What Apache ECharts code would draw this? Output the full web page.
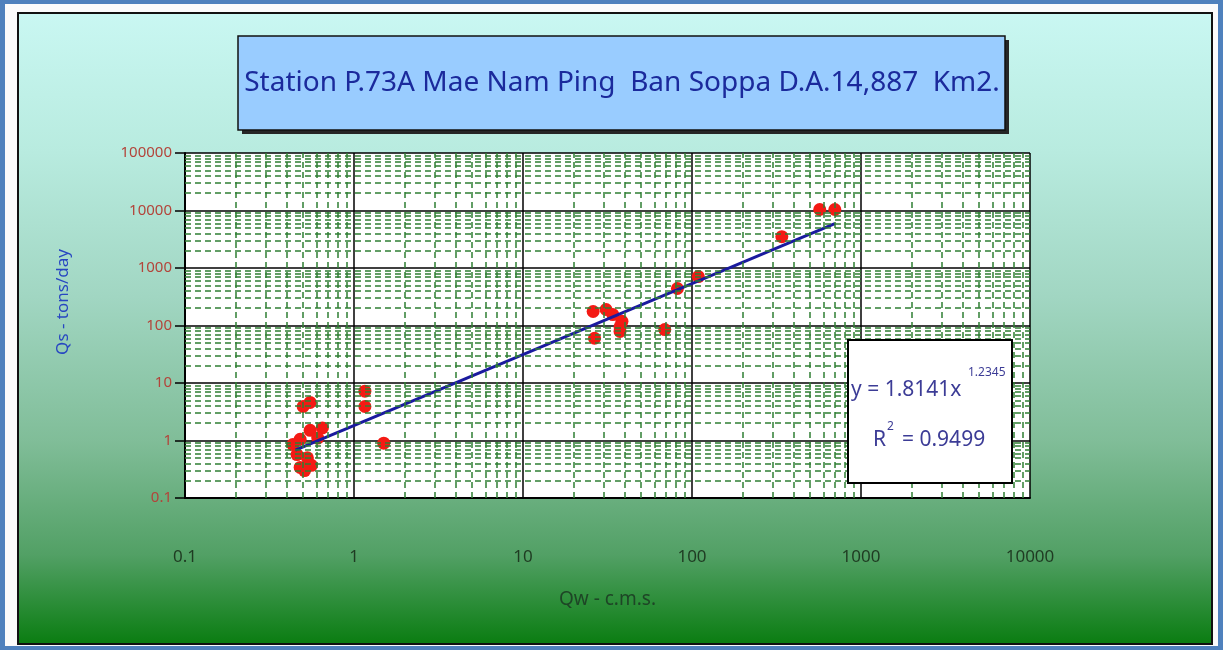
<!DOCTYPE html>
<html>
<head>
<meta charset="utf-8">
<script src="https://cdn.jsdelivr.net/npm/echarts@6/dist/echarts.min.js"></script>
<style>
html,body{margin:0;padding:0;width:1223px;height:650px;overflow:hidden;background:#4f81bd;}
#frame{position:absolute;left:5px;top:4px;width:1213px;height:642px;background:#fbfbfb;}
#inner{position:absolute;left:17px;top:12px;width:1192px;height:629px;border:2px solid #111;
  background:linear-gradient(to bottom,#c9f7f2 0%,#b8ebdf 22%,#a1d6c2 45%,#80bd98 68%,#52a065 86%,#0b7d12 100%);}
#chart{position:absolute;left:0;top:0;width:1223px;height:650px;}
</style>
</head>
<body>
<div id="frame"></div>
<div id="inner"></div>
<div id="chart"></div>
<script>
// ---- data ----
const titleText = 'Station P.73A Mae Nam Ping  Ban Soppa D.A.14,887  Km2.';
const xTickLabels = ['0.1', '1', '10', '100', '1000', '10000'];
const yTickLabels = ['0.1', '1', '10', '100', '1000', '10000', '100000'];
const qw = [0.50, 0.55, 0.435, 0.48, 0.55, 0.65, 0.61, 0.46, 0.53, 0.48, 0.56, 0.51, 1.16, 1.16, 1.5,
            26, 31, 34, 38.5, 37.5, 37.5, 26.5, 69, 82, 109, 340, 570, 700];
const qs = [3.9, 4.6, 0.85, 1.05, 1.5, 1.65, 1.1, 0.57, 0.5, 0.34, 0.37, 0.3, 7.2, 3.9, 0.9,
            175, 190, 155, 118, 95, 79, 60, 85, 440, 710, 3500, 10400, 10400];
const trendX = [0.45, 700];
const trendY = [0.677, 5900];
const eqText = 'y = 1.8141x';
const eqExp = '1.2345';
const r2Text = '= 0.9499';

const FONT = 'Noto Sans';
const points = qw.map((x, i) => [x, qs[i]]);
const trend = trendX.map((x, i) => [x, trendY[i]]);

function logLabel(labels, min) {
  return function (v) {
    const k = Math.round(Math.log10(v) - Math.log10(min));
    return labels[k] !== undefined ? labels[k] : '';
  };
}

// minor (2..9) grid positions
const minorX = [], minorY = [];
for (let d = -1; d <= 3; d++) for (let m = 2; m <= 9; m++) minorX.push({ xAxis: +(m * Math.pow(10, d)).toPrecision(3) });
for (let d = -1; d <= 4; d++) for (let m = 2; m <= 9; m++) minorY.push({ yAxis: +(m * Math.pow(10, d)).toPrecision(3) });

const chart = echarts.init(document.getElementById('chart'), null, { renderer: 'canvas' });
chart.setOption({
  animation: false,
  backgroundColor: 'transparent',
  grid: { left: 185, right: 193, top: 153, bottom: 152, show: true, backgroundColor: '#ffffff', borderWidth: 0 },
  xAxis: {
    type: 'log', logBase: 10, min: 0.1, max: 10000,
    axisLine: { show: true, onZero: false, lineStyle: { color: '#000', width: 2 } },
    axisTick: { show: false },
    splitLine: { show: true, lineStyle: { color: '#000', width: 1.5 } },
    axisLabel: { margin: 51, color: '#1f3b22', fontSize: 17, fontFamily: FONT, formatter: logLabel(xTickLabels, 0.1) },
    name: 'Qw - c.m.s.', nameLocation: 'middle', nameGap: 92,
    nameTextStyle: { color: '#1e4526', fontSize: 19, fontFamily: FONT }
  },
  yAxis: {
    type: 'log', logBase: 10, min: 0.1, max: 100000,
    axisLine: { show: true, onZero: false, lineStyle: { color: '#000', width: 2 } },
    axisTick: { show: true, length: 10, lineStyle: { color: '#000', width: 1.5 } },
    splitLine: { show: true, lineStyle: { color: '#000', width: 1.5 } },
    axisLabel: { margin: 13, color: '#b3443a', fontSize: 15, fontFamily: FONT, formatter: logLabel(yTickLabels, 0.1) }
  },
  series: [
    {
      type: 'scatter', data: [], silent: true, z: 1,
      markLine: {
        silent: true, symbol: ['none', 'none'], animation: false,
        label: { show: false },
        lineStyle: { type: [6, 4], color: '#2f7f33', width: 1.5 },
        emphasis: { disabled: true },
        data: minorX.concat(minorY)
      }
    },
    {
      type: 'scatter', data: points, symbol: 'circle', symbolSize: 13, z: 3,
      itemStyle: { color: '#f41a14', opacity: 1, borderWidth: 0 }
    },
    {
      type: 'line', data: trend, symbol: 'none', z: 4,
      lineStyle: { color: '#1a1a9e', width: 3 }
    }
  ],
  graphic: [
    { type: 'rect', z: 100, shape: { x: 242, y: 40, width: 767, height: 94 }, style: { fill: '#262626' } },
    { type: 'rect', z: 101, shape: { x: 238, y: 36, width: 767, height: 94 }, style: { fill: '#99ccff', stroke: '#111', lineWidth: 1.5 } },
    { type: 'text', z: 102, x: 622, y: 83, style: { text: titleText, fill: '#1b2a9c', fontSize: 28, fontFamily: FONT, align: 'center', verticalAlign: 'middle' } },
    { type: 'rect', z: 100, shape: { x: 848, y: 340, width: 164, height: 143 }, style: { fill: '#ffffff', stroke: '#000', lineWidth: 2 } },
    { type: 'text', z: 102, x: 851, y: 390, style: { text: eqText, fill: '#3c3c96', fontSize: 21, fontFamily: FONT, align: 'left', verticalAlign: 'middle' } },
    { type: 'text', z: 102, x: 968, y: 373, style: { text: eqExp, fill: '#3c3c96', fontSize: 12, fontFamily: FONT, align: 'left', verticalAlign: 'middle' } },
    { type: 'text', z: 102, x: 873, y: 440, style: { text: 'R', fill: '#3c3c96', fontSize: 21, fontFamily: FONT, align: 'left', verticalAlign: 'middle' } },
    { type: 'text', z: 102, x: 887, y: 427, style: { text: '2', fill: '#3c3c96', fontSize: 12, fontFamily: FONT, align: 'left', verticalAlign: 'middle' } },
    { type: 'text', z: 102, x: 902, y: 440, style: { text: r2Text, fill: '#3c3c96', fontSize: 21, fontFamily: FONT, align: 'left', verticalAlign: 'middle' } },
    { type: 'text', z: 102, x: 63, y: 302, rotation: Math.PI / 2, style: { text: 'Qs - tons/day', fill: '#2746c2', fontSize: 17, fontFamily: FONT, align: 'center', verticalAlign: 'middle' } }
  ]
});
</script>
</body>
</html>
